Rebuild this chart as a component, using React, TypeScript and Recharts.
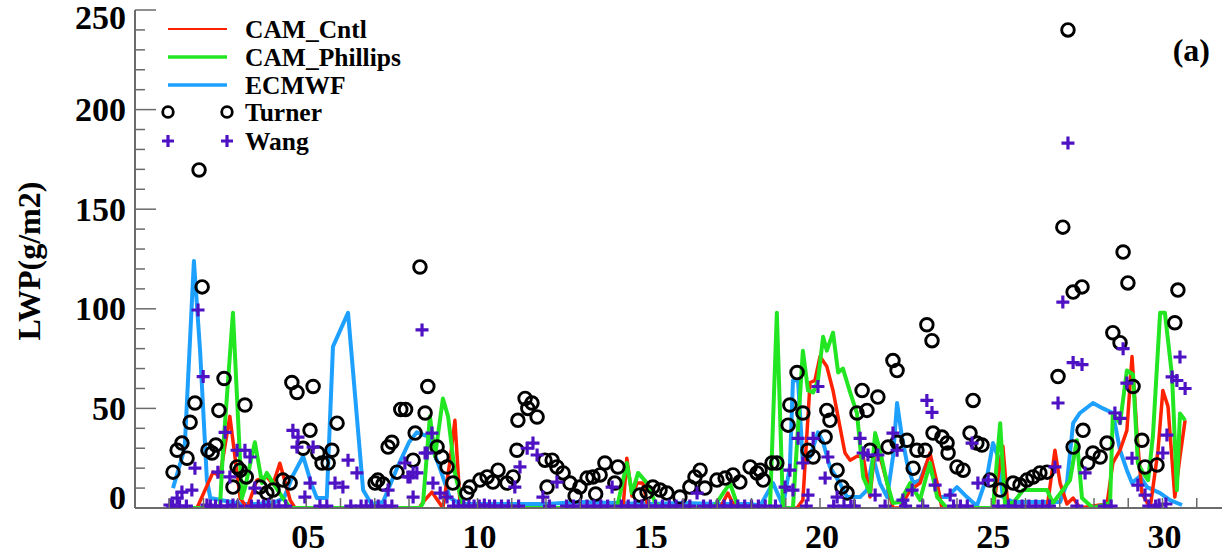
import React from 'react';
import { ComposedChart, Line, Scatter, XAxis, YAxis, Legend } from 'recharts';

const FONT = '"Liberation Serif", "Times New Roman", Times, serif';
const AXIS = '#6b6b6b';
const RED = '#ff2200';
const GREEN = '#22e622';
const BLUE = '#1ea0ff';
const PURPLE = '#4e12c4';

// Axis ticks
const dayTicks = [1, 2, 3, 4, 5, 6, 7, 8, 9, 10, 11, 12, 13, 14, 15, 16, 17, 18, 19, 20, 21, 22, 23, 24, 25, 26, 27, 28, 29, 30, 31];
const dayLabels: Record<number, string> = { 5: '05', 10: '10', 15: '15', 20: '20', 25: '25', 30: '30' };
const lwpTicks = [0, 10, 20, 30, 40, 50, 60, 70, 80, 90, 100, 110, 120, 130, 140, 150, 160, 170, 180, 190, 200, 210, 220, 230, 240, 250];
const lwpLabels = [0, 50, 100, 150, 200, 250];

// Model LWP (g/m2) by day of month
const cntl: [number, number][] = [
  [1.11, 0], [1.81, 0], [2.28, 18], [2.48, 16], [2.77, 46], [3.07, 5], [3.27, 0], [3.56, 14], [3.85, 15.6], [4.03, 12],
  [4.23, 22.5], [4.53, 4], [4.67, 0], [8.3, 0], [8.41, 3], [8.67, 8], [8.99, 0], [9.2, 24], [9.34, 44], [9.49, 2.5],
  [9.6, 0], [14.25, 0], [14.36, 25], [14.51, 6], [14.66, 12.5], [14.83, 12.5], [14.98, 0], [17.08, 0], [17.31, 7.5], [17.52, 0],
  [19.33, 0], [19.5, 4], [19.71, 63], [19.85, 64], [20.0, 76], [20.2, 71], [20.38, 59], [20.58, 41], [20.73, 27.6], [20.88, 24],
  [21.08, 26], [21.26, 26], [21.46, 5.5], [21.61, 31], [21.75, 26], [21.96, 12.5], [22.13, 0], [22.34, 0], [22.63, 9], [22.92, 12.5],
  [23.21, 27.6], [23.42, 12.5], [23.56, 0], [25.05, 0], [25.34, 31], [25.49, 0], [26.63, 0], [26.86, 29], [27.01, 12.5], [27.21, 2],
  [27.39, 5], [27.59, 0], [28.38, 2], [28.55, 22.6], [28.76, 29], [28.96, 39], [29.11, 76], [29.26, 36], [29.4, 7.5], [29.64, 0],
  [29.87, 29], [30.01, 59], [30.16, 51], [30.36, 5.5], [30.51, 25.6], [30.66, 44],
];

const phillips: [number, number][] = [
  [1.11, 0], [2.48, 0], [2.57, 29], [2.86, 98], [3.12, 5], [3.21, 10], [3.5, 33], [3.71, 12.5], [3.85, 17.6], [4.03, 12.5],
  [4.32, 5], [4.53, 0], [8.32, 0], [8.41, 2.5], [8.61, 46], [8.76, 26], [8.99, 55], [9.14, 46], [9.34, 17.6], [9.55, 2.5],
  [9.7, 0], [14.07, 0], [14.36, 22.6], [14.51, 7.5], [14.69, 17.6], [14.95, 12.5], [15.18, 3], [15.33, 0], [16.88, 0], [17.37, 12.5],
  [17.58, 2], [17.72, 0], [18.54, 0], [18.74, 98], [18.92, 0], [19.21, 0], [19.5, 79], [19.65, 59], [19.8, 58], [19.94, 64],
  [20.09, 86], [20.2, 79], [20.38, 88], [20.53, 68], [20.67, 70], [20.88, 58], [21.08, 47.5], [21.26, 15.5], [21.46, 7.5], [21.61, 37.6],
  [21.75, 29], [21.96, 12.5], [22.13, 2.5], [22.34, 3], [22.63, 12.5], [22.92, 4], [23.21, 22.6], [23.42, 5.5], [23.71, 0], [25.05, 0],
  [25.26, 42.6], [25.4, 2.5], [25.64, 2.5], [25.93, 9], [26.63, 9], [26.8, 2.5], [27.09, 9], [27.3, 14], [27.5, 34], [27.65, 5],
  [27.97, 0], [28.47, 2.5], [28.55, 47.5], [28.76, 42.6], [28.96, 69], [29.14, 67], [29.28, 22.6], [29.43, 17.6], [29.58, 14], [29.72, 36],
  [29.93, 98], [30.07, 98], [30.28, 66], [30.42, 9], [30.51, 47.5], [30.66, 44],
];

const ecmwf: [number, number][] = [
  [1.11, 10], [1.45, 30], [1.72, 124], [1.9, 79], [2.1, 14], [2.2, 5], [2.5, 4], [2.8, 3], [3.1, 2], [3.6, 2],
  [4.1, 3], [4.35, 5], [4.6, 16], [4.91, 26], [5.15, 12], [5.31, 5], [5.6, 5], [5.78, 81], [6.22, 98], [6.66, 9],
  [6.9, 2], [7.24, 3], [7.65, 20], [8.0, 33], [8.23, 38], [8.55, 36], [8.9, 20], [9.2, 5], [9.5, 2], [10.5, 2],
  [12.0, 2], [13.0, 3], [14.0, 2.5], [15.0, 2], [16.0, 2.5], [17.0, 2], [18.0, 2], [18.25, 1], [18.63, 12.5], [18.92, 1],
  [19.12, 20.6], [19.21, 64], [19.36, 64], [19.5, 22.6], [19.71, 25.6], [19.94, 38], [20.09, 33], [20.29, 20.6], [20.58, 12.5], [20.79, 5.5],
  [21.17, 5.5], [21.37, 9], [21.55, 25.6], [21.75, 12.5], [21.96, 5.5], [22.13, 25.6], [22.25, 52.7], [22.39, 36], [22.54, 22.6], [22.72, 12.5],
  [22.92, 14], [23.12, 22.6], [23.3, 16], [23.5, 5.5], [23.71, 5.5], [24.0, 10.5], [24.29, 5.5], [24.58, 1], [24.88, 16], [25.05, 32.6],
  [25.2, 25.6], [25.34, 5.5], [25.64, 3], [27.01, 3], [27.21, 12.5], [27.39, 42.6], [27.59, 47.7], [27.97, 52.7], [28.26, 50], [28.55, 47.7],
  [28.76, 29], [28.96, 19], [29.11, 12.5], [29.34, 16], [29.55, 10.5], [29.93, 7.5], [30.22, 4], [30.57, 1.5],
];

// Retrievals
const turner: [number, number][] = [
  [1.11, 18], [1.23, 29], [1.37, 32.6], [1.52, 25], [1.61, 43], [1.75, 52.7], [1.87, 169.7], [1.96, 111], [2.13, 29], [2.25, 27.6],
  [2.36, 31.6], [2.45, 49], [2.6, 65], [2.86, 10.5], [2.98, 20.6], [3.07, 19], [3.21, 51.7], [3.25, 15.6], [3.65, 10.5], [3.85, 7.5],
  [4.03, 9], [4.32, 14], [4.53, 12.5], [4.58, 63], [4.73, 58], [4.91, 30], [5.11, 39], [5.2, 61], [5.34, 27.6], [5.46, 22.6],
  [5.64, 22.6], [5.75, 29], [5.9, 42.6], [7.01, 12.5], [7.09, 14], [7.24, 12], [7.39, 30.6], [7.5, 33], [7.65, 18], [7.76, 49.5],
  [7.9, 49.5], [8.12, 24], [8.18, 37.6], [8.32, 121], [8.47, 47.7], [8.55, 61], [8.82, 30.6], [8.96, 25.6], [9.11, 20.6], [9.28, 12.5],
  [9.69, 7.5], [9.78, 10.5], [10.07, 14], [10.28, 15.6], [10.45, 13], [10.6, 19], [10.86, 12.5], [11.04, 15.6], [11.15, 29], [11.18, 44],
  [11.39, 55], [11.47, 50], [11.59, 52.7], [11.74, 45.7], [11.97, 24], [12.03, 10.5], [12.18, 24], [12.32, 20.6], [12.5, 17.6], [12.7, 12.5],
  [12.85, 6], [12.99, 10.5], [13.2, 15], [13.37, 15.6], [13.45, 7], [13.58, 16.6], [13.72, 22.6], [14.01, 12.5], [14.1, 20.6], [14.74, 6.5],
  [14.95, 8], [15.12, 10.5], [15.33, 9], [15.53, 7.5], [15.91, 5.5], [16.2, 10.5], [16.35, 15.6], [16.5, 19], [16.64, 10], [16.99, 14],
  [17.23, 15], [17.46, 16.6], [17.66, 13], [17.96, 20.6], [18.16, 17.6], [18.25, 19], [18.34, 14], [18.6, 22.6], [18.74, 22.6], [19.07, 41.6],
  [19.12, 51.7], [19.33, 68], [19.5, 47.7], [19.65, 29], [19.8, 25.6], [20.15, 35.6], [20.2, 49], [20.29, 44], [20.5, 19], [20.64, 10.5],
  [20.79, 7.5], [21.08, 47.7], [21.23, 59], [21.37, 49], [21.46, 29], [21.69, 55.7], [21.99, 30.6], [22.13, 74], [22.25, 69], [22.25, 33],
  [22.54, 34], [22.72, 20], [22.83, 29], [23.07, 29], [23.12, 92], [23.27, 84], [23.3, 37.6], [23.56, 35.6], [23.71, 32.6], [23.74, 27.6],
  [24.0, 20.6], [24.18, 19], [24.38, 37.6], [24.47, 54], [24.58, 32.6], [24.73, 31.6], [24.96, 14], [25.26, 9], [25.64, 12.5], [25.84, 11.5],
  [26.04, 14], [26.22, 15.6], [26.42, 17.6], [26.63, 18], [26.95, 66], [27.09, 141], [27.24, 240], [27.39, 108.4], [27.39, 30.6], [27.65, 111],
  [27.68, 39], [27.82, 22.6], [27.97, 27.6], [28.18, 25.6], [28.38, 32.6], [28.55, 88], [28.76, 83], [28.85, 128.5], [28.99, 113], [29.14, 61],
  [29.4, 34], [29.49, 20.6], [29.84, 21.6], [30.36, 93], [30.45, 109.4],
];

const wang: [number, number][] = [
  [1.02, 1.5], [1.1, 1], [1.23, 5], [1.3, 1], [1.37, 8], [1.5, 1], [1.66, 9], [1.75, 20], [1.84, 99.4], [1.99, 66],
  [2.1, 1.5], [2.2, 1], [2.35, 1], [2.42, 18], [2.5, 1], [2.63, 38], [2.7, 1], [2.77, 15.6], [2.86, 1.5], [2.98, 29],
  [3.0, 1], [3.21, 29], [3.36, 25.6], [3.4, 1], [3.5, 10], [3.6, 1], [3.75, 1], [3.9, 1.5], [4.05, 1], [4.2, 1],
  [4.4, 1], [4.61, 39], [4.73, 30.6], [4.76, 35.6], [4.96, 5.5], [5.11, 12.5], [5.2, 30.6], [5.4, 1], [5.6, 1], [5.84, 12.5],
  [6.07, 10.5], [6.22, 24], [6.3, 1], [6.48, 17.6], [6.6, 1], [6.75, 1], [6.9, 1], [7.1, 1], [7.3, 1], [7.39, 9],
  [7.5, 1], [7.88, 22.6], [7.97, 15.6], [8.03, 15.6], [8.12, 5.5], [8.12, 17.6], [8.23, 17.6], [8.38, 89.4], [8.47, 27.6], [8.53, 27.6],
  [8.67, 37.6], [8.7, 12.5], [8.91, 7.5], [9.11, 5.5], [9.3, 1], [9.45, 1], [9.6, 1], [9.75, 1], [9.9, 1], [10.05, 1],
  [10.2, 1.5], [10.35, 1], [10.5, 1], [10.7, 1], [10.9, 1], [11.09, 10.5], [11.2, 1], [11.24, 20.6], [11.45, 30], [11.62, 32.6],
  [11.74, 26.6], [11.91, 5.5], [12.1, 1], [12.32, 13], [12.6, 1], [12.8, 1], [13.0, 1], [13.2, 1], [13.4, 1], [13.6, 1],
  [13.8, 1], [13.93, 10.5], [14.2, 1], [14.4, 1], [14.6, 1], [14.8, 1], [15.0, 1], [15.2, 1], [15.4, 1], [15.6, 1],
  [15.8, 1], [16.0, 1], [16.2, 1], [16.41, 7.5], [16.6, 1], [16.8, 1], [17.0, 1], [17.2, 1], [17.4, 1], [17.6, 1],
  [17.8, 1], [18.0, 1], [18.2, 1], [18.4, 1], [18.7, 1], [18.98, 10.5], [19.12, 19], [19.21, 9], [19.36, 35], [19.5, 22.6],
  [19.6, 1], [19.65, 6.5], [19.8, 35], [19.94, 61], [20.15, 15], [20.23, 25.6], [20.4, 1], [20.5, 5.5], [20.7, 1], [20.9, 1],
  [21.0, 1], [21.17, 35], [21.26, 27.6], [21.4, 26.6], [21.61, 6.5], [21.69, 26.6], [21.9, 1], [22.13, 37.6], [22.25, 29], [22.42, 4],
  [22.5, 1], [22.69, 9], [23.0, 1], [23.12, 54], [23.27, 48], [23.36, 11.5], [23.8, 6.5], [23.9, 1], [24.1, 1], [24.3, 1],
  [24.44, 32.6], [24.61, 12.5], [24.91, 14], [25.2, 1], [25.5, 1], [25.7, 1], [25.9, 1], [26.1, 1], [26.3, 1], [26.5, 1],
  [26.7, 1], [26.86, 20.6], [26.95, 52.7], [27.09, 103.4], [27.24, 183.2], [27.39, 73], [27.5, 1], [27.65, 72], [27.74, 17.6], [28.3, 1],
  [28.5, 1], [28.61, 47.7], [28.76, 45], [28.85, 80], [28.96, 62.7], [29.11, 25], [29.28, 11.5], [29.49, 6.5], [29.6, 1], [29.8, 1],
  [29.9, 1.5], [30.01, 27.6], [30.1, 2], [30.13, 36.6], [30.28, 65.8], [30.42, 64], [30.51, 75.8], [30.66, 60],
];

const rows = (pts: [number, number][]) => pts.map(([t, v]) => ({ t, v }));

const W = 1240;
const H = 559;

const labelStyle = { fontFamily: FONT, fontWeight: 700, fontSize: 34, fill: '#000' } as const;

// Left axis: inward ticks, labels on multiples of 50 kept inside the frame
const LeftTick = (props: any) => {
  const { x, y, payload } = props;
  const v = payload.value as number;
  const major = lwpLabels.includes(v);
  const shift = v === 250 ? 7 : v === 0 ? -11 : 0;
  return (
    <g>
      <line x1={x} y1={y} x2={x + (major ? 21 : 10)} y2={y} stroke={AXIS} strokeWidth={1.5} />
      {major && (
        <text x={x - 9} y={y + shift + 11.5} textAnchor="end" {...labelStyle}>
          {v}
        </text>
      )}
    </g>
  );
};

const RightTick = (props: any) => {
  const { x, y, payload } = props;
  const major = lwpLabels.includes(payload.value);
  return <line x1={x} y1={y} x2={x - (major ? 21 : 10)} y2={y} stroke={AXIS} strokeWidth={1.5} />;
};

const BottomTick = (props: any) => {
  const { x, y, payload } = props;
  const lbl = dayLabels[payload.value as number];
  return (
    <g>
      <line x1={x} y1={y} x2={x} y2={y - 10} stroke={AXIS} strokeWidth={1.5} />
      {lbl && (
        <text x={x + 2} y={y + 40} textAnchor="middle" {...labelStyle}>
          {lbl}
        </text>
      )}
    </g>
  );
};

const TopTick = (props: any) => {
  const { x, y } = props;
  return <line x1={x} y1={y} x2={x} y2={y + 9} stroke={AXIS} strokeWidth={1.5} />;
};

const Ring = (props: any) => {
  const { cx, cy } = props;
  if (cx == null || cy == null) return <g />;
  return <circle cx={cx} cy={cy} r={6.3} fill="none" stroke="#000" strokeWidth={2.9} />;
};

const Plus = (props: any) => {
  const { cx, cy } = props;
  if (cx == null || cy == null) return <g />;
  return (
    <path
      d={`M${cx - 6.5},${cy}H${cx + 6.5}M${cx},${cy - 6.5}V${cy + 6.5}`}
      stroke={PURPLE}
      strokeWidth={3.2}
      fill="none"
    />
  );
};

const YTitle = (props: any) => {
  const vb = props.viewBox || {};
  const cx = (vb.x ?? 0) + 29;
  const cy = (vb.y ?? 0) + (vb.height ?? 0) / 2 + 2;
  return (
    <text
      x={cx}
      y={cy}
      transform={`rotate(-90 ${cx} ${cy})`}
      textAnchor="middle"
      dominantBaseline="central"
      fontFamily={FONT}
      fontWeight={700}
      fontSize={32}
      fill="#000"
    >
      LWP(g/m2)
    </text>
  );
};

const legendText = { fontFamily: FONT, fontWeight: 700, fontSize: 25.5, fill: '#000' } as const;

const LegendBox = () => (
  <svg width={1222} height={180} style={{ display: 'block', overflow: 'visible' }}>
    <line x1={168} y1={29} x2={227} y2={29} stroke={RED} strokeWidth={2} />
    <text x={245} y={38} {...legendText}>CAM_Cntl</text>
    <line x1={168} y1={57} x2={227} y2={57} stroke={GREEN} strokeWidth={3.5} />
    <text x={245} y={66} {...legendText}>CAM_Phillips</text>
    <line x1={168} y1={85} x2={227} y2={85} stroke={BLUE} strokeWidth={3.5} />
    <text x={245} y={94} {...legendText}>ECMWF</text>
    <circle cx={168} cy={112} r={5.3} fill="none" stroke="#000" strokeWidth={2.8} />
    <circle cx={227} cy={112} r={5.3} fill="none" stroke="#000" strokeWidth={2.8} />
    <text x={245} y={121} {...legendText}>Turner</text>
    <path d="M162,141H174M168,135V147M221,141H233M227,135V147" stroke={PURPLE} strokeWidth={3.2} fill="none" />
    <text x={245} y={150} {...legendText}>Wang</text>
    <text x={1210} y={61} textAnchor="end" fontFamily={FONT} fontWeight={700} fontSize={32} fill="#000">(a)</text>
  </svg>
);

export default function App() {
  return (
    <div style={{ position: 'absolute', left: 0, top: 0, width: 1222, height: H, overflow: 'hidden', background: '#fff' }}>
      <ComposedChart width={W} height={H} margin={{ top: 10, right: 9, bottom: 0, left: 0 }}>
        <XAxis
          xAxisId="b"
          dataKey="t"
          type="number"
          domain={[0, 32]}
          allowDataOverflow
          ticks={dayTicks}
          interval={0}
          height={51}
          tickSize={0}
          tickMargin={0}
          tick={<BottomTick />}
          axisLine={{ stroke: AXIS, strokeWidth: 2 }}
          tickLine={false}
        />
        <XAxis
          xAxisId="top"
          orientation="top"
          type="number"
          domain={[0, 32]}
          allowDataOverflow
          ticks={dayTicks}
          interval={0}
          height={0}
          tickSize={0}
          tickMargin={0}
          tick={<TopTick />}
          axisLine={{ stroke: AXIS, strokeWidth: 2 }}
          tickLine={false}
        />
        <YAxis
          yAxisId="l"
          dataKey="v"
          type="number"
          domain={[0, 250]}
          allowDataOverflow
          ticks={lwpTicks}
          interval={0}
          width={135}
          tickSize={0}
          tickMargin={0}
          tick={<LeftTick />}
          axisLine={{ stroke: AXIS, strokeWidth: 2 }}
          tickLine={false}
          label={YTitle}
        />
        <YAxis
          yAxisId="r"
          orientation="right"
          type="number"
          domain={[0, 250]}
          allowDataOverflow
          ticks={lwpTicks}
          interval={0}
          width={0}
          tickSize={0}
          tickMargin={0}
          tick={<RightTick />}
          axisLine={{ stroke: AXIS, strokeWidth: 2 }}
          tickLine={false}
        />
        <Legend
          layout="vertical"
          align="center"
          verticalAlign="middle"
          wrapperStyle={{ position: 'absolute', left: 0, top: 0, width: 1222, height: 180, pointerEvents: 'none' }}
          content={() => <LegendBox />}
        />
        <Line xAxisId="b" yAxisId="l" data={rows(ecmwf)} dataKey="v" name="ECMWF" type="linear" stroke={BLUE} strokeWidth={4} dot={false} isAnimationActive={false} strokeLinejoin="round" />
        <Line xAxisId="b" yAxisId="l" data={rows(cntl)} dataKey="v" name="CAM_Cntl" type="linear" stroke={RED} strokeWidth={3.5} dot={false} isAnimationActive={false} strokeLinejoin="round" />
        <Line xAxisId="b" yAxisId="l" data={rows(phillips)} dataKey="v" name="CAM_Phillips" type="linear" stroke={GREEN} strokeWidth={4} dot={false} isAnimationActive={false} strokeLinejoin="round" />
        <Scatter xAxisId="b" yAxisId="l" data={rows(turner)} dataKey="v" name="Turner" shape={Ring} isAnimationActive={false} />
        <Scatter xAxisId="b" yAxisId="l" data={rows(wang)} dataKey="v" name="Wang" shape={Plus} isAnimationActive={false} />
      </ComposedChart>
    </div>
  );
}
